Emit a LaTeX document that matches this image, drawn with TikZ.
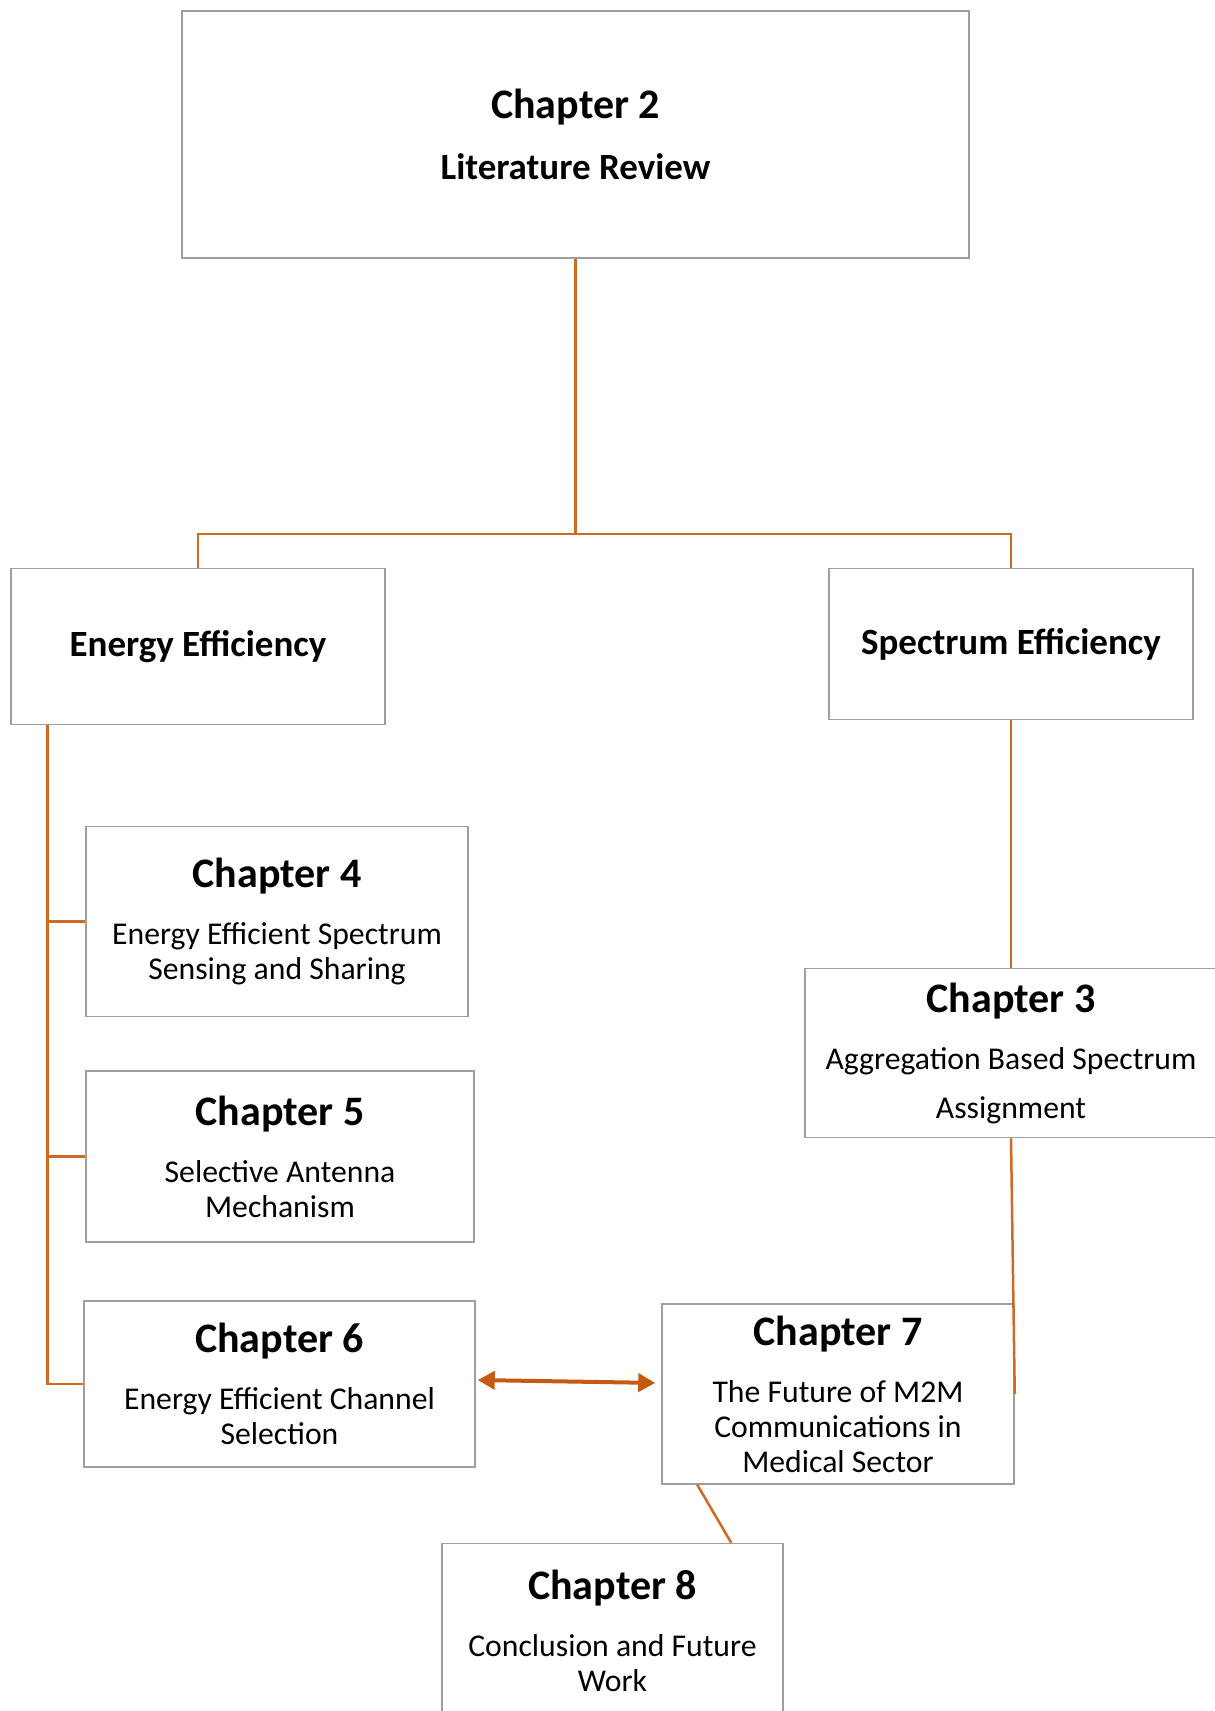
\documentclass[tikz,border=0pt]{standalone}
\usepackage{fontspec}
\setmainfont{Carlito}
\usetikzlibrary{arrows.meta}
\definecolor{linkorange}{RGB}{206,106,38}
\definecolor{arroworange}{RGB}{197,90,17}
\definecolor{boxgray}{RGB}{158,158,158}
\newcommand{\titlefont}{\fontsize{42}{42}\selectfont\bfseries}
\newcommand{\headfont}{\fontsize{37}{40}\selectfont\bfseries}
\tikzset{
  chapbox/.style={draw=boxgray, line width=1.5pt, fill=white, inner sep=0pt,
    align=center, font=\fontsize{31.7}{35}\selectfont},
  link/.style={draw=linkorange, line width=2.5pt},
  twoway/.style={draw=arroworange, line width=4pt,
    {Triangle[length=17pt,width=18pt]}-{Triangle[length=17pt,width=18pt]}}
}
\begin{document}
\begin{tikzpicture}[x=1pt,y=-1pt]
\fill[white] (0,0) rectangle (1215,1711);
\useasboundingbox (0,0) rectangle (1215,1711);

% boxes
\node[chapbox, minimum width=787, minimum height=247] (ch2) at (575.5,134.5)
  {{\titlefont Chapter 2}\\[26pt]{\headfont Literature Review}};
\node[chapbox, minimum width=374, minimum height=156] (ee) at (198,646.5)
  {\headfont Energy Efficiency};
\node[chapbox, minimum width=364, minimum height=151] (se) at (1011,644)
  {\headfont Spectrum Efficiency};
\node[chapbox, minimum width=382, minimum height=190] (ch4) at (277,921.5)
  {{\titlefont Chapter 4}\\[22pt]Energy Efficient Spectrum\\Sensing and Sharing};
\node[chapbox, minimum width=388, minimum height=171] (ch5) at (280,1156.5)
  {{\titlefont Chapter 5}\\[22pt]Selective Antenna\\Mechanism};
\node[chapbox, minimum width=391, minimum height=166] (ch6) at (279.5,1384)
  {{\titlefont Chapter 6}\\[22pt]Energy Efficient Channel\\Selection};
\node[chapbox, minimum width=412, minimum height=169] (ch3) at (1011,1053)
  {{\titlefont Chapter 3}\\[22pt]Aggregation Based Spectrum\\[14pt]Assignment};
\node[chapbox, minimum width=352, minimum height=180] (ch7) at (838,1394)
  {{\titlefont Chapter 7}\\[22pt]The Future of M2M\\Communications in\\Medical Sector};
\node[chapbox, minimum width=341, minimum height=175] (ch8) at (612.5,1631)
  {{\titlefont Chapter 8}\\[22pt]Conclusion and Future\\Work};

% tree from the literature review
\draw[link] (ch2.south) -- ++(0,275) coordinate (split) -| (ee.north);
\draw[link] (split) -| (se.north);

% energy efficiency branch
\coordinate (eebus) at ([xshift=37pt]ee.south west);
\draw[link] (eebus) |- (ch6.west);
\draw[link] (ch4.west) -- (ch4.west -| eebus);
\draw[link] (ch5.west) -- (ch5.west -| eebus);

% spectrum efficiency branch
\draw[link] (se.south) -- (ch3.north);
\draw[link] (ch3.south) -- (ch7.east);

% chapter 6 <-> chapter 7
\draw[twoway, shorten <=2pt, shorten >=6pt]
  ([yshift=4pt]ch6.east) -- ([yshift=11pt]ch7.west);

% chapter 7 to chapter 8
\draw[link] ([xshift=36pt]ch7.south west) -- ([xshift=290pt]ch8.north west);
\end{tikzpicture}
\end{document}
